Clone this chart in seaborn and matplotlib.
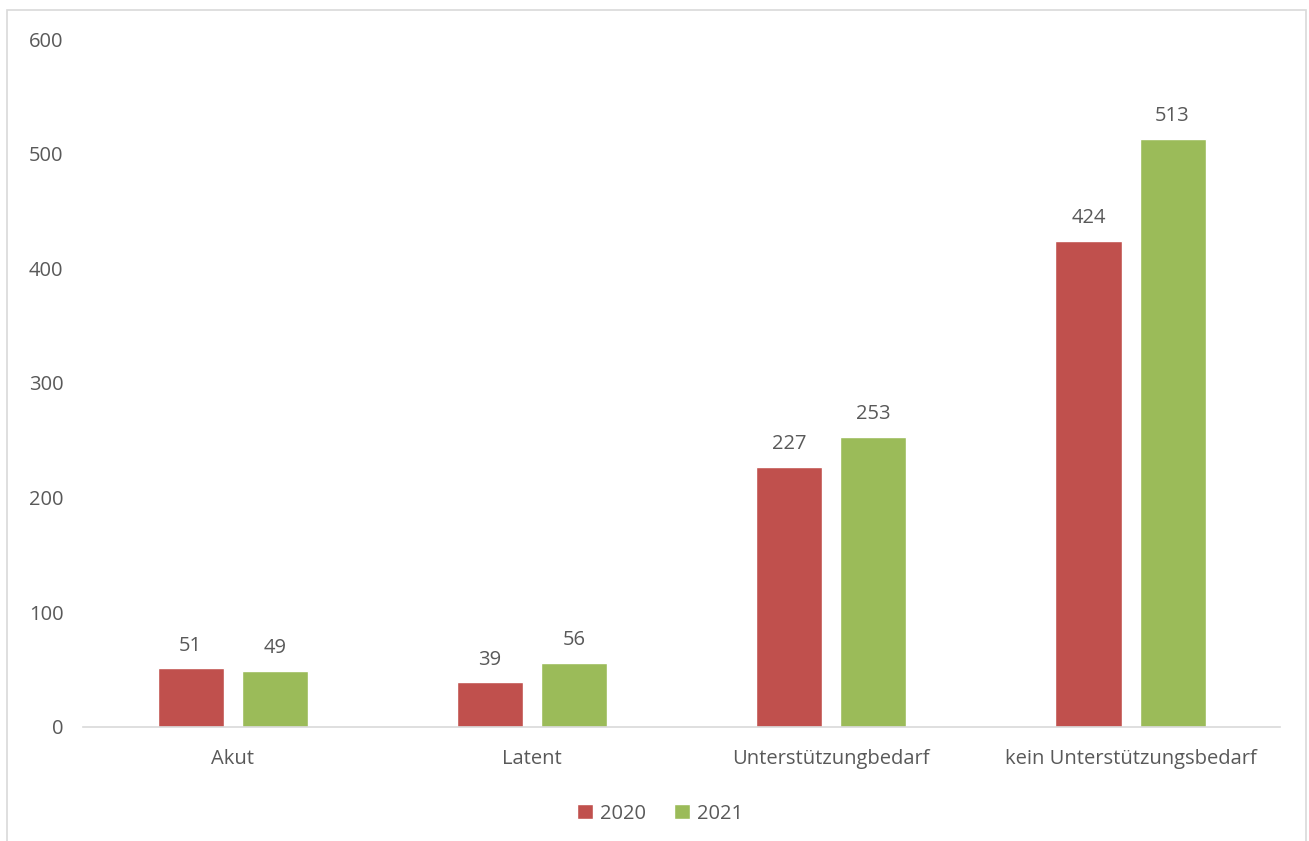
import pandas as pd
import seaborn as sns
import matplotlib.pyplot as plt
from matplotlib.patches import Rectangle

# data
categories = ['Akut', 'Latent', 'Unterstützungbedarf', 'kein Unterstützungsbedarf']
years = ['2020', '2021']
values_2020 = [51, 39, 227, 424]
values_2021 = [49, 56, 253, 513]

df = pd.DataFrame({
    'kategorie': categories * 2,
    'jahr': [years[0]] * 4 + [years[1]] * 4,
    'anzahl': values_2020 + values_2021,
})

sns.set_theme(style='white')
plt.rcParams['font.family'] = ['Open Sans', 'DejaVu Sans']
text_col = '#595959'

fig = plt.figure(figsize=(13.09, 8.41), dpi=100)
ax = fig.add_axes([0.0634, 0.1356, 0.9146, 0.818])

sns.barplot(data=df, x='kategorie', y='anzahl', hue='jahr',
            palette=['#C0504D', '#9BBB59'], width=0.562, gap=0.214,
            saturation=1, ax=ax)

for cont in ax.containers:
    ax.bar_label(cont, padding=9, fontsize=14.5, color=text_col)

ax.set_ylim(0, 600)
ax.set_yticks(range(0, 601, 100))
ax.set_xlabel('')
ax.set_ylabel('')
ax.tick_params(axis='both', length=0, labelsize=14.5, labelcolor=text_col)
ax.tick_params(axis='y', pad=14)
ax.tick_params(axis='x', pad=16)
for side in ['top', 'right', 'left']:
    ax.spines[side].set_visible(False)
ax.spines['bottom'].set_color('#D9D9D9')
ax.spines['bottom'].set_linewidth(1.2)

ax.legend(loc='upper center', bbox_to_anchor=(0.482, -0.085), ncol=2, frameon=False,
          fontsize=14.5, labelcolor=text_col, handlelength=0.8, handleheight=0.8,
          handletextpad=0.35, columnspacing=1.4)

# outer frame of the chart area
fig.patches.append(Rectangle((7 / 1309, -0.01), 1299 / 1309, 1 - 10 / 841 + 0.01,
                             transform=fig.transFigure, fill=False,
                             edgecolor='#D9D9D9', linewidth=1.2))

plt.savefig('out.png', dpi=100)
